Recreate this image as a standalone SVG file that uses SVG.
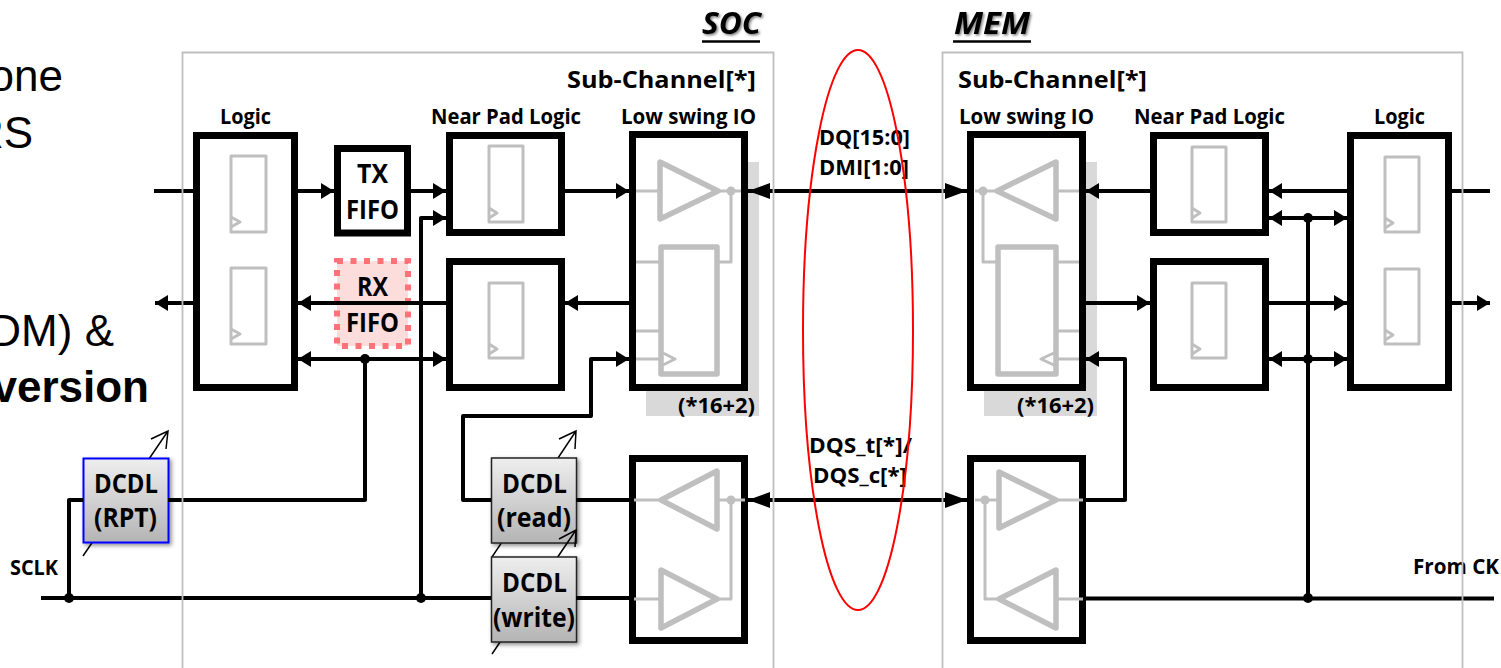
<svg xmlns="http://www.w3.org/2000/svg" width="1501" height="668" viewBox="0 0 1501 668">
<style>
text{font-family:"Open Sans","Noto Sans","Liberation Sans",sans-serif;font-weight:700;fill:#000}
.bg{font-family:"Liberation Sans",Arial,sans-serif;font-size:44px;font-weight:400;text-anchor:end}
.b{fill:#fff;stroke:#000;stroke-width:7}
.f{fill:#fff;stroke:#bfbfbf;stroke-width:3;stroke-linejoin:round}
.g{fill:none;stroke:#bfbfbf;stroke-width:3;stroke-linejoin:round}
.t{fill:#fff;stroke:#bfbfbf;stroke-width:5.5;stroke-linejoin:round}
.s{fill:#d9d9d9}
.d{fill:url(#dg);stroke:#222;stroke-width:1.5;filter:url(#ds)}
.w{fill:none;stroke:#000;stroke-width:4;stroke-linejoin:round}
.j{fill:#000}
.n{fill:none;stroke:#000;stroke-width:1.5}
.fr{fill:none;stroke:#bfbfbf;stroke-width:1.8}
.l{font-size:21px}
.m{font-size:26px}
.h{font-size:30px;font-style:italic;filter:url(#ts)}
.u{stroke:#000;stroke-width:2.5}
</style>
<defs>
<linearGradient id="dg" x1="0" y1="0" x2="0" y2="1"><stop offset="0" stop-color="#eeeeee"/><stop offset="1" stop-color="#b4b4b4"/></linearGradient>
<filter id="ds" x="-20%" y="-20%" width="150%" height="150%"><feDropShadow dx="2" dy="2" stdDeviation="2" flood-color="#000" flood-opacity="0.45"/></filter>
<filter id="ts" x="-20%" y="-20%" width="140%" height="150%"><feDropShadow dx="1.5" dy="1.5" stdDeviation="1" flood-color="#000" flood-opacity="0.5"/></filter>
<marker id="a" markerUnits="userSpaceOnUse" markerWidth="14" markerHeight="16" refX="13" refY="8" orient="auto-start-reverse"><path d="M0 0L13 8L0 16Z"/></marker>
<marker id="A" markerUnits="userSpaceOnUse" markerWidth="23" markerHeight="18" refX="22" refY="9" orient="auto-start-reverse"><path d="M0 1L22 9L0 17Z"/></marker>
</defs>

<g id="background-text">
<text class="bg" x="63" y="91">one</text>
<text class="bg" x="33" y="148">RS</text>
<text class="bg" x="114" y="346">DM) &amp;</text>
<text class="bg" x="149" y="402" style="font-weight:700">version</text>
</g>

<g id="titles">
<text class="h" x="702" y="34" textLength="59" lengthAdjust="spacingAndGlyphs">SOC</text>
<line class="u" x1="702" y1="41.500" x2="760" y2="41.500"/>
<text class="h" x="954" y="34" textLength="76" lengthAdjust="spacingAndGlyphs">MEM</text>
<line class="u" x1="953" y1="41.500" x2="1031" y2="41.500"/>
<text class="m" x="567" y="88" style="font-size:23px" textLength="189" lengthAdjust="spacingAndGlyphs">Sub-Channel[*]</text>
<text class="m" x="958" y="88" style="font-size:23px" textLength="189" lengthAdjust="spacingAndGlyphs">Sub-Channel[*]</text>
<text class="l" x="220" y="124" textLength="51" lengthAdjust="spacingAndGlyphs">Logic</text>
<text class="l" x="431" y="124" textLength="150" lengthAdjust="spacingAndGlyphs">Near Pad Logic</text>
<text class="l" x="621" y="124" textLength="135" lengthAdjust="spacingAndGlyphs">Low swing IO</text>
<text class="l" x="959" y="124" textLength="135" lengthAdjust="spacingAndGlyphs">Low swing IO</text>
<text class="l" x="1134" y="124" textLength="151" lengthAdjust="spacingAndGlyphs">Near Pad Logic</text>
<text class="l" x="1374" y="124" textLength="51" lengthAdjust="spacingAndGlyphs">Logic</text>
</g>

<g id="soc-logic">
<rect class="b" x="196.500" y="135.500" width="98" height="252"/>
<rect class="f" x="231" y="156" width="35" height="76"/><path class="g" d="M231 217L240 222L231 227"/>
<rect class="f" x="231" y="268" width="35" height="76"/><path class="g" d="M231 329L240 334L231 339"/>
</g>
<g id="tx-fifo">
<rect class="b" x="337.500" y="148.500" width="70" height="84.500"/>
<text class="m" x="357" y="183" textLength="31" lengthAdjust="spacingAndGlyphs">TX</text>
<text class="m" x="346" y="219" textLength="53" lengthAdjust="spacingAndGlyphs">FIFO</text>
</g>
<g id="rx-fifo">
<rect x="337" y="261" width="71" height="85" fill="#fddcdc" stroke="#ff7378" stroke-width="6" stroke-dasharray="6 7.500"/>
<text class="m" x="357" y="296" textLength="31" lengthAdjust="spacingAndGlyphs">RX</text>
<text class="m" x="346" y="332" textLength="53" lengthAdjust="spacingAndGlyphs">FIFO</text>
</g>
<g id="soc-near-pad-tx">
<rect class="b" x="449.500" y="135.500" width="112" height="97"/>
<rect class="f" x="489" y="146" width="34" height="76"/><path class="g" d="M489 208L497 213L489 218"/>
</g>
<g id="soc-near-pad-rx">
<rect class="b" x="449.500" y="261.500" width="112" height="126"/>
<rect class="f" x="489" y="283" width="34" height="75"/><path class="g" d="M489 344L497 349L489 354"/>
</g>
<g id="soc-io-dq">
<rect class="s" x="646" y="162" width="113" height="254"/>
<rect class="b" x="632.500" y="134.500" width="112" height="253"/>
<path class="g" d="M636 191H660M718 191H741M731 191V262H717M636 262H661M636 331H661M636 359H663"/>
<path class="t" d="M660 162V219L718 191Z"/>
<rect class="t" x="661" y="247" width="56" height="127"/>
<path class="g" d="M661 352L675 359L661 366"/>
<circle cx="731" cy="191" r="4.500" fill="#bfbfbf"/>
<text class="l" x="678" y="413" textLength="77" lengthAdjust="spacingAndGlyphs">(*16+2)</text>
</g>
<g id="soc-io-dqs">
<rect class="b" x="632.500" y="458.500" width="112" height="182"/>
<path class="g" d="M634 500H661M717 500H745M731 500V599H717M634 599H661"/>
<path class="t" d="M717 471V529L661 500Z"/>
<path class="t" d="M661 570V628L717 599Z"/>
<circle cx="731" cy="500" r="4.500" fill="#bfbfbf"/>
</g>
<g id="mem-io-dq">
<rect class="s" x="984" y="162" width="113" height="254"/>
<rect class="b" x="970.500" y="134.500" width="112" height="253"/>
<path class="g" d="M975 191H997M1056 191H1079M983 191V262H998M1056 262H1079M1056 331H1079M1054 359H1079"/>
<path class="t" d="M1056 162V219L997 191Z"/>
<rect class="t" x="998" y="247" width="58" height="127"/>
<path class="g" d="M1056 352L1041 359L1056 366"/>
<circle cx="983" cy="191" r="4.500" fill="#bfbfbf"/>
<text class="l" x="1017" y="413" textLength="77" lengthAdjust="spacingAndGlyphs">(*16+2)</text>
</g>
<g id="mem-io-dqs">
<rect class="b" x="970.500" y="458.500" width="112" height="182"/>
<path class="g" d="M975 500H999M1056 500H1083M985 500V599H999M1056 599H1083"/>
<path class="t" d="M999 472V528L1056 500Z"/>
<path class="t" d="M1056 570V628L999 599Z"/>
<circle cx="985" cy="500" r="4.500" fill="#bfbfbf"/>
</g>
<g id="mem-near-pad-tx">
<rect class="b" x="1153.500" y="135.500" width="112" height="97"/>
<rect class="f" x="1192" y="147" width="34" height="75"/><path class="g" d="M1192 208L1200 213L1192 218"/>
</g>
<g id="mem-near-pad-rx">
<rect class="b" x="1153.500" y="261.500" width="112" height="126"/>
<rect class="f" x="1192" y="283" width="34" height="75"/><path class="g" d="M1192 344L1200 349L1192 354"/>
</g>
<g id="mem-logic">
<rect class="b" x="1350.500" y="135.500" width="98" height="252"/>
<rect class="f" x="1385" y="157" width="34" height="75"/><path class="g" d="M1385 218L1393 223L1385 228"/>
<rect class="f" x="1385" y="269" width="34" height="75"/><path class="g" d="M1385 330L1393 335L1385 340"/>
</g>

<g id="dcdl-rpt">
<path class="n" d="M83 556L168 431M151 439L168 431L166 449"/>
<rect x="83.500" y="458.500" width="85" height="84" fill="url(#dg)" stroke="#00f" stroke-width="2" filter="url(#ds)"/>
<text class="m" x="94" y="493" textLength="64" lengthAdjust="spacingAndGlyphs">DCDL</text>
<text class="m" x="94" y="527" textLength="63" lengthAdjust="spacingAndGlyphs">(RPT)</text>
</g>
<g id="dcdl-read">
<path class="n" d="M492 557L576 431M559 439L576 431L575 449"/>
<rect class="d" x="491.500" y="458" width="85" height="85"/>
<text class="m" x="502" y="493" textLength="65" lengthAdjust="spacingAndGlyphs">DCDL</text>
<text class="m" x="497" y="527" textLength="74" lengthAdjust="spacingAndGlyphs">(read)</text>
</g>
<g id="dcdl-write">
<path class="n" d="M492 654L576 530M559 539L576 530L575 547"/>
<rect class="d" x="491.500" y="557" width="85" height="85"/>
<text class="m" x="502" y="592" textLength="65" lengthAdjust="spacingAndGlyphs">DCDL</text>
<text class="m" x="493" y="627" textLength="82" lengthAdjust="spacingAndGlyphs">(write)</text>
</g>

<g id="connectors">
<path class="w" d="M154 191H193"/>
<path class="w" d="M298 191H334" marker-end="url(#a)"/>
<path class="w" d="M411 191H446" marker-end="url(#a)"/>
<path class="w" d="M565 191H629" marker-end="url(#a)"/>
<path class="w" d="M748 191H967" marker-start="url(#A)" marker-end="url(#A)"/>
<path class="w" d="M421 598V218H446" marker-end="url(#a)"/>
<path class="w" d="M193 303H155" marker-end="url(#a)"/>
<path class="w" d="M446 303H298" marker-end="url(#a)"/>
<path class="w" d="M629 303H565" marker-end="url(#a)"/>
<path class="w" d="M298 359H446" marker-start="url(#a)" marker-end="url(#a)"/>
<path class="w" d="M168 500H365V359"/>
<path class="w" d="M83 500H69V598"/>
<path class="w" d="M41 598H491M576 598H630"/>
<path class="w" d="M491 500H463V416H591V359H629" marker-end="url(#a)"/>
<path class="w" d="M576 500H630"/>
<path class="w" d="M748 500H967" marker-start="url(#A)" marker-end="url(#A)"/>
<path class="w" d="M1150 191H1086" marker-end="url(#a)"/>
<path class="w" d="M1347 191H1269" marker-end="url(#a)"/>
<path class="w" d="M1452 191H1490"/>
<path class="w" d="M1269 218H1347" marker-start="url(#a)" marker-end="url(#a)"/>
<path class="w" d="M1086 303H1150" marker-end="url(#a)"/>
<path class="w" d="M1269 303H1347" marker-end="url(#a)"/>
<path class="w" d="M1452 303H1490" marker-end="url(#a)"/>
<path class="w" d="M1269 359H1347" marker-start="url(#a)" marker-end="url(#a)"/>
<path class="w" d="M1308 218V598"/>
<path class="w" d="M1086 500H1125V359H1086" marker-end="url(#a)"/>
<path class="w" d="M1086 598.500H1494"/>
<circle class="j" cx="69" cy="598" r="5"/>
<circle class="j" cx="421" cy="598" r="5"/>
<circle class="j" cx="365" cy="359" r="5"/>
<circle class="j" cx="1308" cy="218" r="5"/>
<circle class="j" cx="1308" cy="359" r="5"/>
<circle class="j" cx="1308" cy="598" r="5"/>
</g>

<g id="labels">
<text class="l" x="10" y="575" textLength="48" lengthAdjust="spacingAndGlyphs">SCLK</text>
<text class="l" x="1413" y="574" textLength="86" lengthAdjust="spacingAndGlyphs">From CK</text>
<text class="l" x="819" y="145" textLength="91" lengthAdjust="spacingAndGlyphs">DQ[15:0]</text>
<text class="l" x="819" y="175" textLength="90" lengthAdjust="spacingAndGlyphs">DMI[1:0]</text>
<text class="l" x="809" y="453" textLength="103" lengthAdjust="spacingAndGlyphs">DQS_t[*]/</text>
<text class="l" x="813" y="483" textLength="94" lengthAdjust="spacingAndGlyphs">DQS_c[*]</text>
</g>

<g id="frames">
<path class="fr" d="M182.500 668V52.500H773.500V668"/>
<path class="fr" d="M942.500 668V52.500H1462.500V668"/>
</g>
<g id="highlight">
<ellipse cx="858" cy="330" rx="55" ry="280" fill="none" stroke="#f00" stroke-width="2"/>
</g>
</svg>
